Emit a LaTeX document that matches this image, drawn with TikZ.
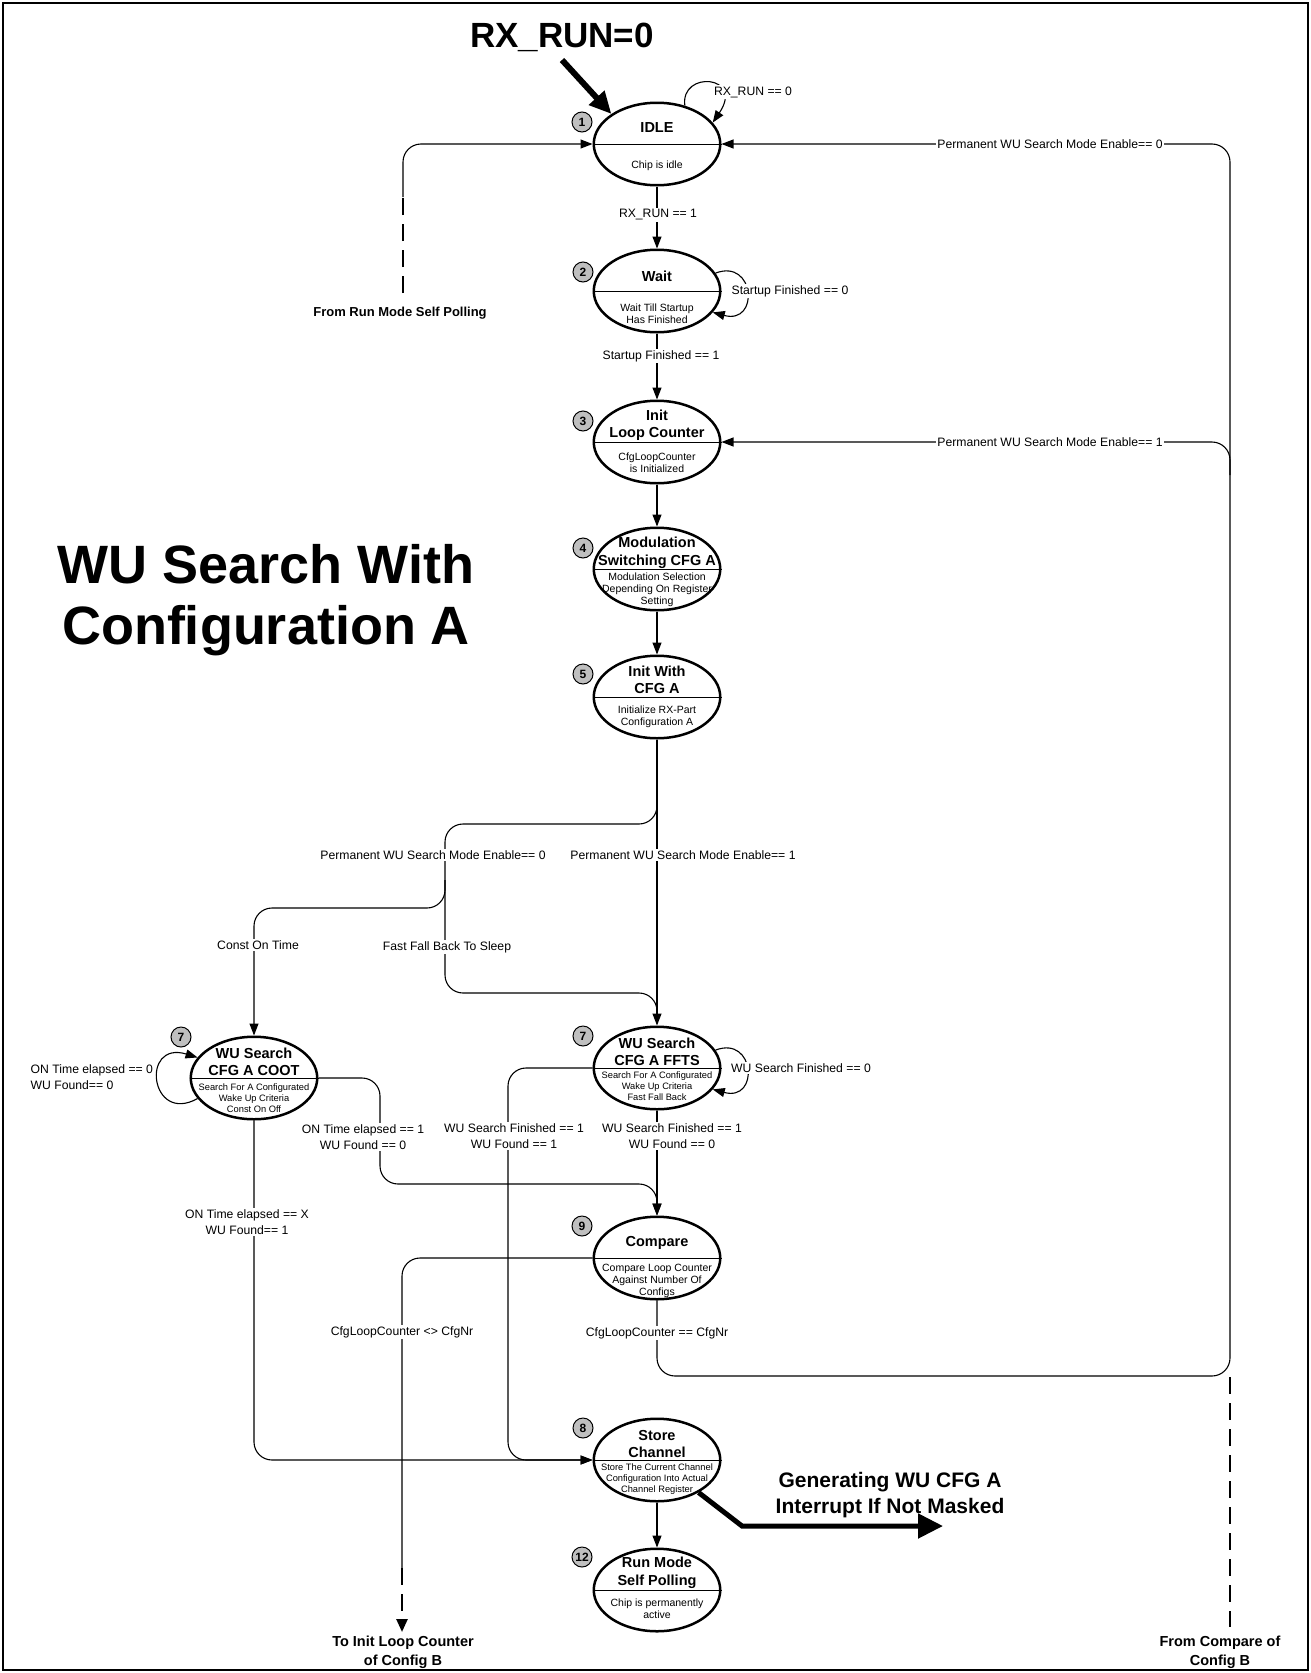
\documentclass[tikz,border=0pt]{standalone}
\usepackage{fontspec}
\setmainfont{Liberation Sans}
\usetikzlibrary{shapes.geometric,arrows.meta}
\begin{document}
\begin{tikzpicture}[x=1pt,y=-1pt,
  state/.style={ellipse, draw, line width=2.5pt, minimum width=126.5pt, minimum height=82.5pt, inner sep=0pt, fill=white},
  ttl/.style={font=\bfseries\fontsize{14.5}{17.5}\selectfont, align=center, inner sep=0pt},
  dsc/.style={font=\fontsize{10.5}{12}\selectfont, align=center, inner sep=0pt},
  dscs/.style={font=\fontsize{9.3}{11.3}\selectfont, align=center, inner sep=0pt},
  badge/.style={circle, draw, line width=1pt, fill=black!25, minimum size=20pt, inner sep=0pt, font=\bfseries\fontsize{12}{12}\selectfont},
  line/.style={line width=1.1pt},
  arr/.style={-{Triangle[length=12pt,width=9pt]}},
  lbl/.style={fill=white, inner sep=1.5pt, font=\fontsize{12.2}{15.5}\selectfont, align=center},
  dashline/.style={line width=2.5pt, dash pattern=on 17pt off 9pt},
  bigtxt/.style={font=\bfseries\fontsize{13}{19}\selectfont, align=center, inner sep=0pt},
]
\useasboundingbox (0,0) rectangle (1311,1673);
\draw[line width=2pt] (3,3) rectangle (1308,1670);

% titles
\node[font=\bfseries\fontsize{35}{40}\selectfont, inner sep=0pt] (rxtitle) at (562,37) {RX\_RUN=0};
\node[font=\bfseries\fontsize{54}{61}\selectfont, align=center, inner sep=0pt] (maintitle) at (266,600) {WU Search With\\Configuration A};

% states
\node[state] (idle) at (657,144) {};
\node[state] (wait) at (657,291) {};
\node[state] (initlc) at (657,442) {};
\node[state] (mod) at (657,569) {};
\node[state] (initA) at (657,697) {};
\node[state] (coot) at (254,1078) {};
\node[state] (ffts) at (657,1068) {};
\node[state] (cmp) at (657,1258) {};
\node[state] (store) at (657,1460) {};
\node[state] (run) at (657,1590) {};
\foreach \s in {idle,wait,initlc,mod,initA,coot,ffts,cmp,store,run}
  \draw[line width=0.9pt] (\s.west) -- (\s.east);

% state texts
\node[ttl] (idle-t) at (657,128) {IDLE};
\node[dsc] (idle-d) at (657,166) {Chip is idle};
\node[ttl] (wait-t) at (657,276) {Wait};
\node[dsc] (wait-d) at (657,314) {Wait Till Startup\\Has Finished};
\node[ttl] (initlc-t) at (657,425) {Init\\Loop Counter};
\node[dsc] (initlc-d) at (657,463) {CfgLoopCounter\\is Initialized};
\node[ttl] (mod-t) at (657,553) {Modulation\\Switching CFG A};
\node[dsc] (mod-d) at (657,590) {Modulation Selection\\Depending On Register\\Setting};
\node[ttl] (initA-t) at (657,680) {Init With\\CFG A};
\node[dsc] (initA-d) at (657,717) {Initialize RX-Part\\Configuration A};
\node[ttl] (coot-t) at (254,1062) {WU Search\\CFG A COOT};
\node[dscs] (coot-d) at (254,1098) {Search For A Configurated\\Wake Up Criteria\\Const On Off};
\node[ttl] (ffts-t) at (657,1052) {WU Search\\CFG A FFTS};
\node[dscs] (ffts-d) at (657,1086) {Search For A Configurated\\Wake Up Criteria\\Fast Fall Back};
\node[ttl] (cmp-t) at (657,1243) {Compare};
\node[dsc] (cmp-d) at (657,1281) {Compare Loop Counter\\Against Number Of\\Configs};
\node[ttl] (store-t) at (657,1444) {Store\\Channel};
\node[dscs] (store-d) at (657,1479) {Store The Current Channel\\Configuration Into Actual\\Channel Register};
\node[ttl] (run-t) at (657,1573) {Run Mode\\Self Polling};
\node[dsc] (run-d) at (657,1609) {Chip is permanently\\active};

% badges
\node[badge] (n1) at (582,122) {1};
\node[badge] (n2) at (583,272) {2};
\node[badge] (n3) at (583,421) {3};
\node[badge] (n4) at (583,548) {4};
\node[badge] (n5) at (583,674) {5};
\node[badge] (n7a) at (181,1037) {7};
\node[badge] (n7b) at (583,1036) {7};
\node[badge] (n9) at (582,1226) {9};
\node[badge] (n8) at (583,1428) {8};
\node[badge] (n12) at (582,1557) {12};

% start arrow
\coordinate (start) at (562,60);
\draw[line width=6pt, -{Triangle[length=22pt,width=20pt]}] (start) -- (idle.north west);

% main chain
\draw[line, arr] (idle.54) .. controls (680,70) and (745,75) .. (idle.21);
\draw[line, arr] (idle.south) -- (wait.north);
\draw[line, arr] (wait.17) .. controls (755,258) and (760,325) .. (wait.-21);
\draw[line, arr] (wait.south) -- (initlc.north);
\draw[line, arr] (initlc.south) -- (mod.north);
\draw[line, arr] (mod.south) -- (initA.north);
\draw[line, arr] (initA.south) -- (ffts.north);

% branches after init with CFG A
\coordinate (j1) at (657,790);
\draw[line, arr, rounded corners=18pt] (j1) -- (657,824) -- (445,824) -- (445,908) -- (254,908) -- (coot.north);
\coordinate (j2) at (445,880);
\draw[line, rounded corners=18pt] (j2) -- (445,993) -- (657,993) -- (657,1015);

% COOT
\draw[line, arr] (coot.200) .. controls (150,1125) and (140,1040) .. (coot.160);
\draw[line, arr, rounded corners=18pt] (coot.east) -- (380,1078) -- (380,1184) -- (657,1184) -- (cmp.north);
\draw[line, arr, rounded corners=18pt] (coot.south) -- (254,1460) -- (store.west);

% FFTS
\draw[line, arr] (ffts.17) .. controls (755,1035) and (760,1102) .. (ffts.-21);
\draw[line, arr] (ffts.south) -- (cmp.north);
\draw[line, arr, rounded corners=18pt] (ffts.west) -- (508,1068) -- (508,1460) -- (store.west);

% Compare
\coordinate (dB) at (402,1568);
\coordinate (toB) at (402,1632);
\draw[line, rounded corners=18pt] (cmp.west) -- (402,1258) -- (dB);
\draw[dashline, -{Triangle[length=13pt,width=11pt]}] (dB) -- (toB);
\draw[line, arr, rounded corners=18pt] (cmp.south) -- (657,1376) -- (1230,1376) -- (1230,144) -- (idle.east);
\coordinate (j3) at (1230,475);
\draw[line, arr, rounded corners=18pt] (j3) -- (1230,442) -- (initlc.east);
\coordinate (j4) at (1230,1377);
\coordinate (fromB) at (1230,1627);
\draw[dashline] (j4) -- (fromB);

% from run mode
\coordinate (fromR) at (403,293);
\coordinate (j5) at (403,197);
\draw[dashline] (fromR) -- (j5);
\draw[line, arr, rounded corners=18pt] (j5) -- (403,144) -- (idle.west);

% store
\draw[line, arr] (store.south) -- (run.north);
\coordinate (intCorner) at (742,1526);
\coordinate (intEnd) at (943,1526);
\draw[line width=5pt, -{Triangle[length=25pt,width=24pt]}] (store.-38) -- (intCorner) -- (intEnd);

% labels
\node[lbl] (l-rx0) at (753,92) {RX\_RUN == 0};
\node[lbl] (l-rx1) at (658,215) {RX\_RUN == 1};
\node[lbl] (l-sf0) at (790,291) {Startup Finished == 0};
\node[lbl] (l-sf1) at (661,356) {Startup Finished == 1};
\node[lbl] (l-p1a) at (683,855) {Permanent WU Search Mode Enable== 1};
\node[lbl] (l-p0a) at (433,855) {Permanent WU Search Mode Enable== 0};
\node[lbl] (l-cot) at (258,945) {Const On Time};
\node[lbl] (l-ffb) at (447,947) {Fast Fall Back To Sleep};
\node[lbl, align=left, anchor=west] (l-on0) at (29,1077) {ON Time elapsed == 0\\WU Found== 0};
\node[lbl] (l-wsf0) at (801,1068) {WU Search Finished == 0};
\node[lbl] (l-on1) at (363,1137) {ON Time elapsed == 1\\WU Found == 0};
\node[lbl] (l-wsf1a) at (514,1136) {WU Search Finished == 1\\WU Found == 1};
\node[lbl] (l-wsf1b) at (672,1136) {WU Search Finished == 1\\WU Found == 0};
\node[lbl] (l-onx) at (247,1222) {ON Time elapsed == X\\WU Found== 1};
\node[lbl] (l-neq) at (402,1332) {CfgLoopCounter <> CfgNr};
\node[lbl] (l-eq) at (657,1333) {CfgLoopCounter == CfgNr};
\node[lbl] (l-p0b) at (1050,144) {Permanent WU Search Mode Enable== 0};
\node[lbl] (l-p1b) at (1050,442) {Permanent WU Search Mode Enable== 1};

% outside texts
\node[bigtxt] (t-fromR) at (400,313) {From Run Mode Self Polling};
\node[bigtxt, font=\bfseries\fontsize{14.5}{19}\selectfont] (t-toB) at (403,1652) {To Init Loop Counter\\of Config B};
\node[bigtxt, font=\bfseries\fontsize{14.5}{19}\selectfont] (t-fromB) at (1220,1652) {From Compare of\\Config B};
\node[bigtxt, font=\bfseries\fontsize{21}{26}\selectfont] (t-int) at (890,1495) {Generating WU CFG A\\Interrupt If Not Masked};
\end{tikzpicture}
\end{document}
